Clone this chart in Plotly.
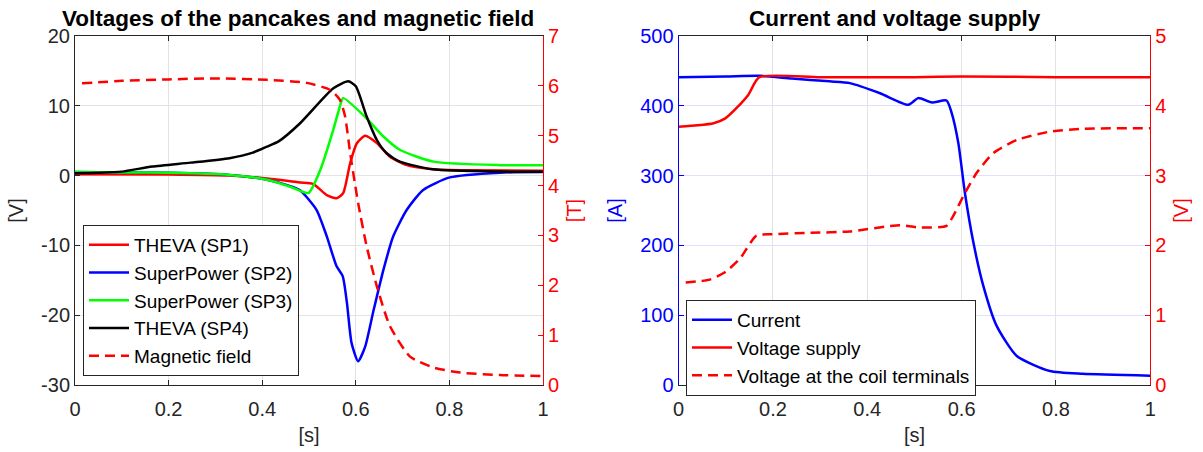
import plotly.graph_objects as go

# ---------------- Left panel data ----------------
sp1_t = [0, 0.2, 0.33, 0.41, 0.46, 0.481, 0.509, 0.538, 0.559, 0.573, 0.588, 0.602, 0.620, 0.645, 0.673, 0.709, 0.765, 0.85, 1.0]
sp1_v = [0.2, 0.15, 0.0, -0.4, -0.8, -1.0, -1.2, -2.8, -3.25, -2.5, 1.8, 4.6, 5.7, 4.65, 2.7, 1.5, 0.9, 0.75, 0.7]

sp2_t = [0, 0.1, 0.2, 0.33, 0.41, 0.46, 0.481, 0.516, 0.538, 0.559, 0.572, 0.581, 0.591, 0.605, 0.620, 0.638, 0.659, 0.680, 0.709, 0.744, 0.801, 0.908, 1.0]
sp2_v = [0.5, 0.45, 0.4, 0.1, -0.6, -1.5, -2.1, -4.9, -8.7, -13.0, -14.4, -18.2, -24.0, -26.6, -24.5, -19.3, -13.5, -8.7, -4.9, -2.05, -0.26, 0.42, 0.5]

sp3_t = [0, 0.1, 0.2, 0.33, 0.41, 0.46, 0.4985, 0.524, 0.552, 0.566, 0.573, 0.623, 0.659, 0.694, 0.766, 0.908, 1.0]
sp3_v = [0.5, 0.45, 0.4, 0.1, -0.6, -1.6, -2.5, 0.8, 6.6, 9.9, 11.1, 8.2, 5.6, 3.7, 2.0, 1.5, 1.5]

sp4_t = [0, 0.05, 0.1, 0.165, 0.247, 0.33, 0.38, 0.41, 0.435, 0.481, 0.552, 0.584, 0.6, 0.623, 0.645, 0.666, 0.694, 0.765, 0.908, 1.0]
sp4_v = [0.33, 0.4, 0.57, 1.3, 1.86, 2.5, 3.3, 4.15, 4.9, 7.5, 12.5, 13.5, 12.8, 8.5, 5.1, 3.2, 2.0, 0.9, 0.57, 0.55]

bfield_t = [0.015, 0.1, 0.2, 0.3, 0.41, 0.495, 0.545, 0.566, 0.577, 0.588, 0.598, 0.605, 0.623, 0.645, 0.673, 0.716, 0.766, 0.823, 0.908, 1.0]
bfield_T = [6.05, 6.1, 6.13, 6.15, 6.12, 6.06, 5.92, 5.72, 5.39, 4.65, 4.05, 3.65, 2.79, 1.98, 1.18, 0.57, 0.35, 0.25, 0.2, 0.18]

# ---------------- Right panel data ----------------
current_t = [0, 0.1, 0.173, 0.24, 0.32, 0.363, 0.427, 0.487, 0.508, 0.537, 0.568, 0.579, 0.593, 0.607, 0.625, 0.646, 0.674, 0.717, 0.787, 0.856, 1.0]
current_A = [441, 442, 443, 439, 435, 432.5, 418, 401.4, 411, 404.7, 407.6, 389.5, 346.6, 275, 204, 142, 85, 41.5, 20, 16, 13.3]

supply_t = [0, 0.04, 0.074, 0.099, 0.123, 0.148, 0.171, 0.3, 0.5, 0.6, 0.8, 1.0]
supply_V = [3.7, 3.72, 3.75, 3.82, 3.97, 4.16, 4.41, 4.41, 4.41, 4.42, 4.41, 4.41]

coil_t = [0.015, 0.066, 0.099, 0.13, 0.165, 0.198, 0.28, 0.363, 0.469, 0.505, 0.568, 0.582, 0.607, 0.632, 0.667, 0.717, 0.787, 0.856, 1.0]
coil_V = [1.47, 1.51, 1.62, 1.81, 2.14, 2.16, 2.18, 2.20, 2.29, 2.26, 2.28, 2.42, 2.75, 3.04, 3.32, 3.51, 3.63, 3.67, 3.68]

x_ticks = [0, 0.2, 0.4, 0.6, 0.8, 1]
x_ticklabels = ["0", "0.2", "0.4", "0.6", "0.8", "1"]
v_ticks = [-30, -20, -10, 0, 10, 20]
v_ticklabels = ["-30", "-20", "-10", "0", "10", "20"]
b_ticks = [0, 1, 2, 3, 4, 5, 6, 7]
a_ticks = [0, 100, 200, 300, 400, 500]
s_ticks = [0, 1, 2, 3, 4, 5]

RED = "#ff0000"
BLUE = "#0000ff"
GREEN = "#00ff00"
BLACK = "#000000"
DARK = "#262626"
FONT = "Liberation Sans, Arial, sans-serif"
LW = 2.5
DASH = "10px,6px"
TICK = 20
LAB = 20

fig = go.Figure()

def line(x, y, color, name, xa, ya, legend, dash="solid"):
    fig.add_trace(go.Scatter(x=x, y=y, mode="lines", name=name, xaxis=xa, yaxis=ya,
                             legend=legend,
                             line=dict(color=color, width=LW, dash=dash, shape="spline", smoothing=0.6)))

line(sp1_t, sp1_v, RED, "THEVA (SP1)", "x", "y", "legend")
line(sp2_t, sp2_v, BLUE, "SuperPower (SP2)", "x", "y", "legend")
line(sp3_t, sp3_v, GREEN, "SuperPower (SP3)", "x", "y", "legend")
line(sp4_t, sp4_v, BLACK, "THEVA (SP4)", "x", "y", "legend")
line(bfield_t, bfield_T, RED, "Magnetic field", "x", "y2", "legend", DASH)

line(current_t, current_A, BLUE, "Current", "x2", "y3", "legend2")
line(supply_t, supply_V, RED, "Voltage supply", "x2", "y4", "legend2")
line(coil_t, coil_V, RED, "Voltage at the coil terminals", "x2", "y4", "legend2", DASH)

W, H = 1203, 452
ML, MR, MT, MB = 40, 40, 36, 67
PW = W - ML - MR
PH = H - MT - MB

def px(p):
    return (p - ML) / PW

def py(p):
    return 1 - (p - MT) / PH

dom1 = [px(75), px(543)]
dom2 = [px(678.6), px(1150.3)]

tickfont = dict(family=FONT, size=TICK, color=DARK)
gridgray = "#e3e3e3"

xcommon = dict(range=[0, 1], tickvals=x_ticks, ticktext=x_ticklabels, ticks="inside", ticklen=5,
               tickcolor=DARK, showline=True, linecolor=DARK, linewidth=1, mirror="ticks",
               showgrid=True, gridcolor=gridgray, gridwidth=1, zeroline=False, automargin=False,
               tickfont=tickfont, ticklabelstandoff=6,
               title=dict(text="[s]", font=dict(family=FONT, size=LAB, color=DARK), standoff=8))

fig.update_layout(
    width=W, height=H,
    margin=dict(l=ML, r=MR, t=MT, b=MB),
    paper_bgcolor="white", plot_bgcolor="white",
    font=dict(family=FONT, color=DARK),
    xaxis=dict(domain=dom1, anchor="y", **xcommon),
    yaxis=dict(range=[-30, 20], tickvals=v_ticks, ticktext=v_ticklabels, ticks="inside", ticklen=5,
               tickcolor=DARK, showline=True, linecolor=DARK, linewidth=1, automargin=False,
               showgrid=True, gridcolor=gridgray, zeroline=False, tickfont=tickfont,
               title=dict(text="[V]", font=dict(family=FONT, size=LAB, color=DARK), standoff=12)),
    yaxis2=dict(range=[0, 7], tickvals=b_ticks, overlaying="y", side="right", anchor="x",
                ticks="inside", ticklen=5, tickcolor=RED, showline=True, linecolor=RED, linewidth=1,
                showgrid=False, zeroline=False, automargin=False,
                tickfont=dict(family=FONT, size=TICK, color=RED),
                title=dict(text="[T]", font=dict(family=FONT, size=LAB, color=RED), standoff=8)),
    xaxis2=dict(domain=dom2, anchor="y3", **xcommon),
    yaxis3=dict(range=[0, 500], tickvals=a_ticks, anchor="x2", ticks="inside",
                ticklen=5, tickcolor=BLUE, showline=True, linecolor=BLUE, linewidth=1,
                showgrid=True, gridcolor="rgb(224,224,252)", zeroline=False, automargin=False,
                tickfont=dict(family=FONT, size=TICK, color=BLUE),
                title=dict(text="[A]", font=dict(family=FONT, size=LAB, color=BLUE), standoff=12)),
    yaxis4=dict(range=[0, 5], tickvals=s_ticks, overlaying="y3", side="right", anchor="x2",
                ticks="inside", ticklen=5, tickcolor=RED, showline=True, linecolor=RED, linewidth=1,
                showgrid=False, zeroline=False, automargin=False,
                tickfont=dict(family=FONT, size=TICK, color=RED),
                title=dict(text="[V]", font=dict(family=FONT, size=LAB, color=RED), standoff=8)),
    legend=dict(x=px(83), y=py(225), xanchor="left", yanchor="top", bgcolor="white",
                bordercolor=DARK, borderwidth=1, font=dict(family=FONT, size=19, color=BLACK),
                tracegroupgap=0, itemwidth=40),
    legend2=dict(x=px(686), y=py(300), xanchor="left", yanchor="top", bgcolor="white",
                 bordercolor=DARK, borderwidth=1, font=dict(family=FONT, size=19, color=BLACK),
                 tracegroupgap=0, itemwidth=40),
    showlegend=True,
    annotations=[
        dict(text="<b>Voltages of the pancakes and magnetic field</b>", x=px(298),
             y=py(18), xref="paper", yref="paper", xanchor="center", yanchor="middle",
             showarrow=False, font=dict(family=FONT, size=22.5, color=BLACK)),
        dict(text="<b>Current and voltage supply</b>", x=px(895),
             y=py(18), xref="paper", yref="paper", xanchor="center", yanchor="middle",
             showarrow=False, font=dict(family=FONT, size=22.5, color=BLACK)),
    ],
)

fig.write_html("out.html", config={"displayModeBar": False},
               post_script="document.body.style.margin='0px';document.body.style.overflow='hidden';")
